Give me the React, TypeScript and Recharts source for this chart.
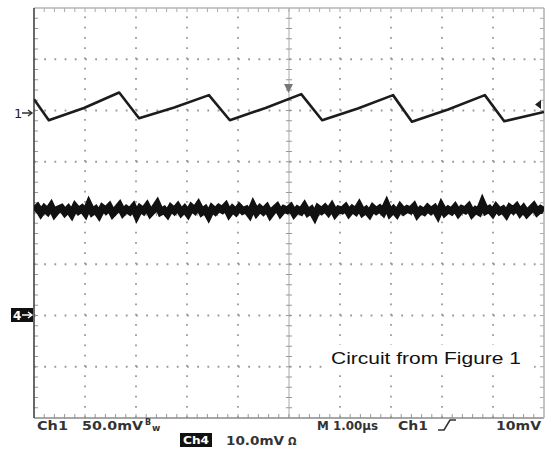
import React from 'react'
import { ComposedChart, XAxis, YAxis, Line, ReferenceLine } from 'recharts'

// Ch1 ripple, time in µs, level in mV (50 mV/div)
const ch1Time = [0, 0.29, 0.98, 1.67, 2.06, 2.75, 3.43, 3.84, 4.54, 5.24, 5.65, 6.35, 7.04, 7.41, 8.12, 8.84, 9.22, 10]
const ch1Mv = [13, -7.5, 4.5, 19.5, -5.5, 5, 17, -7.5, 4.5, 18, -7.5, 4, 17, -9, 3, 17, -8.5, 0.5]

// Ch4 noise, mV (10 mV/div), sampled across the full 10 µs record
const ch4Mv = [
  20.5, 21.1, 20.0, 20.9, 20.3, 21.3, 19.9, 20.7, 21.0, 20.1, 20.8, 19.8, 21.2, 20.4, 20.9, 20.0,
  21.6, 20.2, 20.7, 19.7, 21.0, 20.5, 21.2, 19.9, 20.6, 21.4, 20.1, 20.8, 20.3, 21.1, 19.6, 20.9,
  20.4, 21.3, 20.0, 20.7, 21.7, 20.2, 20.6, 19.8, 21.0, 20.4, 21.2, 20.1, 20.8, 19.9, 21.1, 20.5,
  21.5, 20.2, 20.7, 19.5, 20.9, 20.3, 21.0, 20.6, 21.3, 19.9, 20.8, 20.2, 21.1, 20.4, 20.7, 19.8,
  21.4, 20.1, 20.9, 20.3, 21.0, 19.7, 20.6, 21.2, 20.0, 20.8, 20.5, 21.1, 19.9, 20.7, 20.3, 21.3,
  20.1, 20.6, 19.4, 20.9, 20.4, 21.0, 20.2, 21.2, 19.9, 20.7, 20.5, 21.1, 20.0, 20.8, 20.3, 21.4,
  20.1, 20.6, 19.8, 21.0, 20.4, 20.9, 20.2, 21.6, 20.0, 20.7, 19.9, 21.1, 20.3, 20.8, 20.5, 21.2,
  19.8, 20.6, 20.2, 21.0, 20.4, 20.9, 19.7, 21.3, 20.1, 20.7, 20.3, 21.1, 20.0, 20.8, 20.5, 21.2,
  19.9, 20.6, 20.2, 21.9, 20.4, 20.8, 20.0, 21.1, 20.3, 20.7, 19.8, 21.0, 20.5, 21.2, 20.1, 20.9,
  19.9, 20.6, 21.3, 20.2, 20.8, 20.4,
]

const ch1Offset = 1.96 // divisions above centre
const ch4Offset = -2

const ch1Data = ch1Time.map((t, i) => ({ t, y: ch1Offset + ch1Mv[i] / 50 }))
const ch4Data = ch4Mv.map((v, i) => ({ t: (i * 10) / (ch4Mv.length - 1), y: ch4Offset + v / 10 }))

const xDivs = [1, 2, 3, 4, 6, 7, 8, 9]
const yDivs = [-3, -2, -1, 1, 2, 3]
const xMinor = Array.from({ length: 49 }, (_, i) => +((i + 1) * 0.2).toFixed(1))
const yMinor = Array.from({ length: 39 }, (_, i) => +(-4 + (i + 1) * 0.2).toFixed(1))

const W = 548
const H = 449
const scopeFont = '"DejaVu Sans", Verdana, sans-serif'

export default function App() {
  const tx = 0.08
  const ty = 0.078
  return (
    <div style={{ position: 'absolute', left: 0, top: 0, width: W, height: H, background: '#fff' }}>
      <ComposedChart width={W} height={H} margin={{ top: 8, right: 4, bottom: 31, left: 34 }}>
        <XAxis type="number" dataKey="t" domain={[0, 10]} hide allowDataOverflow />
        <YAxis type="number" dataKey="y" domain={[-4, 4]} hide allowDataOverflow />

        {xDivs.map((x) => (
          <ReferenceLine key={`gx${x}`} x={x} stroke="#999" strokeWidth={1.8} strokeDasharray="1.8 8.45" />
        ))}
        {yDivs.map((y) => (
          <ReferenceLine key={`gy${y}`} y={y} stroke="#999" strokeWidth={1.8} strokeDasharray="1.8 8.4" />
        ))}

        <ReferenceLine x={5} stroke="#aaa" strokeWidth={1} />
        <ReferenceLine y={0} stroke="#aaa" strokeWidth={1} />
        {xMinor.map((x) => (
          <ReferenceLine key={`cx${x}`} segment={[{ x, y: -0.06 }, { x, y: 0.06 }]} stroke="#999" />
        ))}
        {yMinor.map((y) => (
          <ReferenceLine key={`cy${y}`} segment={[{ x: 4.94, y }, { x: 5.06, y }]} stroke="#999" />
        ))}

        {xMinor.map((x) => (
          <ReferenceLine key={`bx${x}`} segment={[{ x, y: -4 }, { x, y: -4 + ty }]} stroke="#999" />
        ))}
        {xMinor.map((x) => (
          <ReferenceLine key={`tx${x}`} segment={[{ x, y: 4 }, { x, y: 4 - ty }]} stroke="#aaa" />
        ))}
        {yMinor.map((y) => (
          <ReferenceLine key={`ly${y}`} segment={[{ x: 0, y }, { x: tx, y }]} stroke="#999" />
        ))}
        {yMinor.map((y) => (
          <ReferenceLine key={`ry${y}`} segment={[{ x: 10, y }, { x: 10 - tx, y }]} stroke="#aaa" />
        ))}

        <ReferenceLine y={4} stroke="#b5b5b5" strokeWidth={1.5} />
        <ReferenceLine y={-4} stroke="#8a8a8a" strokeWidth={1.5} />
        <ReferenceLine x={10} stroke="#b0b0b0" strokeWidth={1.5} />
        <ReferenceLine x={0} stroke="#444" strokeWidth={1.6} />

        <Line
          data={ch4Data}
          dataKey="y"
          type="linear"
          stroke="#111"
          strokeWidth={7.5}
          strokeLinejoin="miter"
          dot={false}
          isAnimationActive={false}
        />
        <Line
          data={ch1Data}
          dataKey="y"
          type="linear"
          stroke="#1c1c1c"
          strokeWidth={2.6}
          strokeLinejoin="round"
          dot={false}
          isAnimationActive={false}
        />
      </ComposedChart>

      <svg
        width={W}
        height={H}
        style={{ position: 'absolute', left: 0, top: 0, pointerEvents: 'none' }}
      >
        {/* channel ground markers */}
        <text x={14} y={118} fontFamily={scopeFont} fontSize={13} fill="#222">1</text>
        <path d="M22 113 H31 M28 110 L32 113 L28 116" stroke="#333" strokeWidth={1.4} fill="none" />
        <rect x={11} y={308} width={22} height={14} fill="#111" />
        <text x={13} y={320} fontFamily={scopeFont} fontSize={12} fontWeight="bold" fill="#fff">4</text>
        <path d="M22 315 H31 M28 312 L32 315 L28 318" stroke="#fff" strokeWidth={1.4} fill="none" />

        {/* trigger markers */}
        <path d="M284 84 L293 84 L288.5 93 Z" fill="#777" />
        <path d="M541 100 L535 104.5 L541 109 Z" fill="#222" />

        {/* annotation */}
        <rect x={322} y={345} width={212} height={28} fill="#fff" />
        <text
          x={331}
          y={364}
          fontFamily='"Liberation Sans", Arial, sans-serif'
          fontSize={17}
          textLength={190}
          lengthAdjust="spacingAndGlyphs"
          fill="#111"
        >
          Circuit from Figure 1
        </text>

        {/* readout */}
        <g fontFamily={scopeFont} fontSize={13} fontWeight="bold" fill="#333">
          <text x={37} y={430} textLength={31} lengthAdjust="spacingAndGlyphs">Ch1</text>
          <text x={82} y={430} textLength={61} lengthAdjust="spacingAndGlyphs">50.0mV</text>
          <text x={145} y={425} fontSize={8}>B</text>
          <text x={152} y={431} fontSize={9}>w</text>
          <text x={317} y={430} textLength={61} lengthAdjust="spacingAndGlyphs">M 1.00µs</text>
          <text x={398} y={430} textLength={30} lengthAdjust="spacingAndGlyphs">Ch1</text>
          <text x={496} y={430} textLength={45} lengthAdjust="spacingAndGlyphs">10mV</text>
          <text x={226} y={445} textLength={58} lengthAdjust="spacingAndGlyphs">10.0mV</text>
          <text x={288} y={445} fontSize={10}>Ω</text>
        </g>
        <path d="M438 430 L444 430 L450 420 L456 420" stroke="#333" strokeWidth={1.6} fill="none" />
        <rect x={180} y={433} width={32} height={14} fill="#111" />
        <text
          x={183}
          y={444}
          fontFamily={scopeFont}
          fontSize={11}
          fontWeight="bold"
          fill="#fff"
          textLength={26}
          lengthAdjust="spacingAndGlyphs"
        >
          Ch4
        </text>
      </svg>
    </div>
  )
}
